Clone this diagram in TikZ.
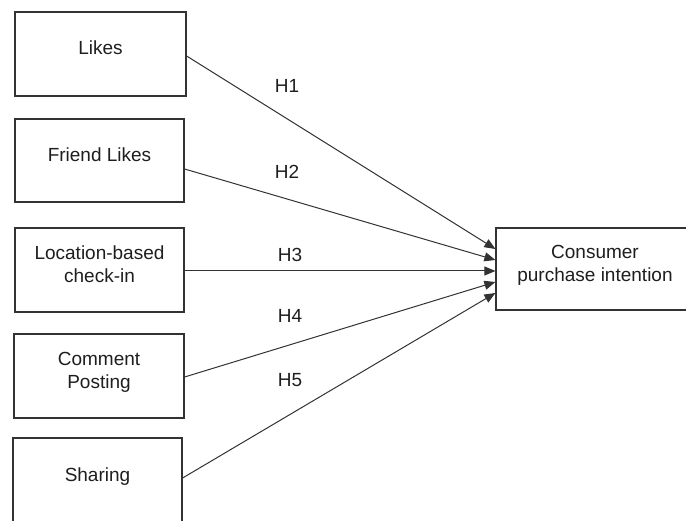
\documentclass[tikz,border=0pt]{standalone}
\usepackage{fontspec}
\setmainfont{Liberation Sans}
\usetikzlibrary{arrows.meta,calc}
\definecolor{linec}{HTML}{333333}
\definecolor{textc}{HTML}{1E1E1E}
\begin{document}
\begin{tikzpicture}[x=1pt,y=-1pt,
  box/.style={draw=linec,line width=1.2pt,align=center,inner sep=0pt,
    font=\fontsize{19}{23}\selectfont,text=textc,text depth=12pt},
  oneline/.style={box,text height=13.6pt},
  twoline/.style={box,text height=36.6pt},
  conn/.style={draw=linec,line width=1pt,-{Triangle[length=11pt,width=9pt]}},
  hlab/.style={font=\fontsize{19}{23}\selectfont,text=textc,inner sep=0pt}]
\useasboundingbox (0,0) rectangle (686,521);
\clip (0,0) rectangle (686,521);
\fill[white] (0,0) rectangle (686,521);

\node[oneline,minimum width=171pt,minimum height=84pt] (likes) at (100.5,54) {Likes};
\node[oneline,minimum width=169pt,minimum height=83pt] (friend) at (99.5,160.5) {Friend Likes};
\node[twoline,minimum width=169pt,minimum height=84pt] (loc) at (99.5,270) {Location-based\\check-in};
\node[twoline,minimum width=170pt,minimum height=84pt] (comment) at (99,376) {Comment\\Posting};
\node[oneline,minimum width=169pt,minimum height=86pt] (sharing) at (97.5,481) {Sharing};
\node[twoline,minimum width=198pt,minimum height=82pt] (target) at (595,269) {Consumer\\purchase intention};

\draw[conn] ($(likes.east)+(0,2)$) -- ($(target.west)+(0,-20)$);
\draw[conn] ($(friend.east)+(0,8.5)$) -- ($(target.west)+(0,-9)$);
\draw[conn] ($(loc.east)+(0,1)$) -- ($(target.west)+(0,2)$);
\draw[conn] ($(comment.east)+(0,1)$) -- ($(target.west)+(0,13)$);
\draw[conn] ($(sharing.east)+(0,-3)$) -- ($(target.west)+(0,24)$);

\node[hlab] (h1) at (287,86) {H1};
\node[hlab] (h2) at (287,172) {H2};
\node[hlab] (h3) at (290,255) {H3};
\node[hlab] (h4) at (290,316) {H4};
\node[hlab] (h5) at (290,380) {H5};
\end{tikzpicture}
\end{document}
